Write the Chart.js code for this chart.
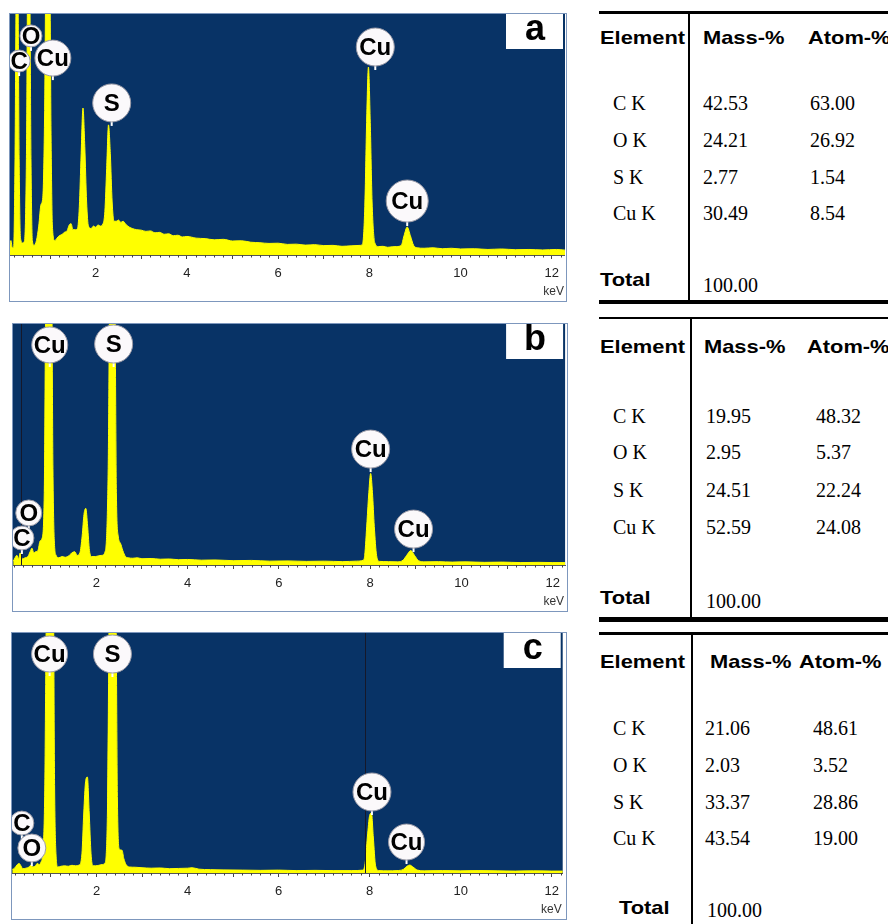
<!DOCTYPE html>
<html>
<head>
<meta charset="utf-8">
<script src="https://cdn.jsdelivr.net/npm/chart.js@4.4.1/dist/chart.umd.min.js"></script>
<style>
  body { margin: 0; width: 888px; height: 924px; background: #fff; position: relative; overflow: hidden; font-family: "Liberation Sans", Arial, sans-serif; }
  .panel { position: absolute; border: 1px solid #7d97bd; box-sizing: content-box; }
  .panel canvas { display: block; }
  .rule { position: absolute; background: #000; }
  .txt { position: absolute; white-space: nowrap; transform: translateY(-50%); color: #000; }
  .hd { font: bold 19px "Liberation Sans", Arial, sans-serif; transform: translateY(-50%) scaleX(1.15); transform-origin: left center; }
  .val { font: 20px "Liberation Serif", "Times New Roman", serif; }
</style>
</head>
<body>
<div id="pa" class="panel" style="left:9px;top:13px"><canvas id="ca" width="556" height="287"></canvas></div>
<div id="pb" class="panel" style="left:12px;top:323px"><canvas id="cb" width="554" height="287"></canvas></div>
<div id="pc" class="panel" style="left:11px;top:632px"><canvas id="cc" width="554" height="286"></canvas></div>
<script>
// --- SPECTRUM DATA (keV, counts in % of plot height; >100 = off scale) ---
const energyA = [0.12,0.14,0.17,0.20,0.23,0.26,0.29,0.32,0.35,0.40,0.44,0.48,0.51,0.55,0.58,0.61,0.65,0.70,0.75,0.80,0.84,0.88,0.91,0.99,1.02,1.05,1.10,1.15,1.20,1.26,1.32,1.37,1.42,1.46,1.50,1.55,1.60,1.64,1.68,1.72,1.76,1.80,1.84,1.90,1.95,2.00,2.05,2.10,2.16,2.20,2.24,2.28,2.32,2.36,2.40,2.45,2.50,2.55,2.60,2.65,2.70,2.80,2.90,3.00,3.10,3.20,3.30,3.40,3.50,3.60,3.70,3.80,3.90,4.00,4.20,4.40,4.60,4.80,5.00,5.20,5.40,5.60,5.80,6.00,6.20,6.40,6.60,6.80,7.00,7.20,7.40,7.60,7.80,7.85,7.90,7.94,7.98,8.02,8.06,8.12,8.20,8.30,8.40,8.50,8.60,8.70,8.76,8.83,8.90,8.97,9.05,9.20,9.40,9.60,9.80,10.0,10.3,10.6,10.9,11.2,11.5,11.8,12.1,12.3];
const countsA = [4,6,3,3,40,115,115,40,7,5,6,40,115,115,40,6,4,6,12,21,24,60,120,120,50,12,6,7,8,8.5,9.5,10,12.5,13,10.5,10.5,11,20,42,61,45,22,12,11,12,11.5,12.5,12,13,18,36,54,42,22,14,14,14.5,13.5,14,13,12,11,10.5,10.3,9.8,10,9.2,9.4,8.6,8.8,8.0,8.2,7.5,7.7,7.0,6.8,6.3,6.5,5.8,5.9,5.3,5.1,4.8,4.9,4.4,4.5,4.1,4.3,3.9,4.0,3.6,3.8,4.0,4.5,20,55,78,55,22,5,3.5,3.6,3.2,3.4,3.5,4,8,11.6,8,4,3,2.8,3,2.6,2.8,2.5,2.6,2.3,2.5,2.2,2.3,2.1,2.3,2.0];

const energyB = [0.18,0.22,0.26,0.30,0.33,0.38,0.44,0.50,0.55,0.59,0.63,0.67,0.72,0.77,0.81,0.86,0.90,1.02,1.05,1.08,1.12,1.18,1.25,1.32,1.40,1.46,1.53,1.58,1.64,1.69,1.73,1.77,1.81,1.85,1.90,1.98,2.05,2.12,2.20,2.26,2.30,2.40,2.44,2.48,2.53,2.58,2.64,2.70,2.80,2.90,3.00,3.20,3.40,3.60,3.80,4.00,4.30,4.60,5.00,5.40,5.80,6.20,6.60,7.00,7.40,7.70,7.85,7.88,7.93,7.97,8.01,8.05,8.09,8.14,8.20,8.40,8.60,8.72,8.80,8.89,8.97,9.06,9.20,9.50,9.80,10.1,10.5,10.9,11.3,11.7,12.0,12.3];
const countsB = [1.5,3,4,2.5,5,2.5,3,3.5,5.5,7,5,5.5,6,10,11,30,120,120,40,10,4,3,3.5,3.2,3.8,5,5.5,4,5,12,21,23.5,16,6,3.5,3.5,3.8,4,6,40,120,120,30,12,9,6,3.5,3.0,2.8,3.0,2.6,2.7,2.4,2.5,2.2,2.3,2.0,2.1,1.8,1.9,1.6,1.7,1.5,1.6,1.4,1.6,2,4,18,30,38,30,16,4,1.5,1.4,1.3,2,4,6,4,1.8,1.3,1.4,1.2,1.3,1.1,1.2,1.0,1.1,1.0,1.0];

const energyC = [0.15,0.20,0.26,0.30,0.34,0.38,0.45,0.52,0.56,0.60,0.66,0.70,0.74,0.78,0.82,0.86,0.91,1.05,1.08,1.11,1.15,1.22,1.30,1.38,1.46,1.54,1.62,1.68,1.72,1.76,1.80,1.84,1.88,1.92,1.98,2.05,2.12,2.18,2.24,2.29,2.42,2.46,2.50,2.56,2.60,2.65,2.72,2.85,3.00,3.20,3.40,3.60,3.80,4.00,4.10,4.25,4.50,4.80,5.20,5.60,6.00,6.40,6.80,7.20,7.60,7.85,7.90,7.95,8.00,8.04,8.08,8.13,8.20,8.40,8.60,8.74,8.82,8.88,8.95,9.05,9.20,9.60,10.0,10.4,10.8,11.2,11.6,12.0,12.3];
const countsC = [1.5,2,3.5,4,3,1.8,2,2.5,3.3,2.5,3,4,3.5,4.5,8.3,30,120,120,35,8,2.5,2.8,3,2.8,3.2,3,3.3,8,25,38,40,25,8,3,3,3.2,3.5,4,25,120,120,30,10,9.5,6,3.5,2.5,2.4,2.2,2.0,2.1,1.8,1.9,2.0,2.2,1.6,1.4,1.3,1.2,1.1,1.2,1.0,1.1,1.0,1.0,1.2,4,15,24,25,15,3,1.0,0.9,1.0,1.5,2.8,3.3,2.5,1.2,0.9,1.0,0.9,1.0,0.9,0.8,0.9,0.8,0.8];

// peak label texts and where their circles sit (keV, % height)
const peakTextA = ['C','O','Cu','S','Cu','Cu'];
const peakKeVA  = [0.32,0.58,1.06,2.35,8.13,8.83];
const peakYA    = [80.5,90.9,81.7,63.1,86.3,22.4];
const peakTextB = ['Cu','S','O','C','Cu','Cu'];
const peakKeVB  = [0.98,2.38,0.52,0.37,8.01,8.95];
const peakYB    = [91.3,91.7,21.6,11.2,48.1,14.9];
const peakTextC = ['Cu','S','C','O','Cu','Cu'];
const peakKeVC  = [0.97,2.35,0.36,0.58,8.05,8.81];
const peakYC    = [91.25,91.25,20.8,10.4,33.75,12.9];

const axisTicks = [1,2,3,4,5,6,7,8,9,10,11,12];

// --- TABLE DATA ---
const tableHeads = ['Element','Mass-%','Atom-%'];
const tableRows = ['C K','O K','S K','Cu K'];
const massA = ['42.53','24.21','2.77','30.49'], atomA = ['63.00','26.92','1.54','8.54'];
const massB = ['19.95','2.95','24.51','52.59'], atomB = ['48.32','5.37','22.24','24.08'];
const massC = ['21.06','2.03','33.37','43.54'], atomC = ['48.61','3.52','28.86','19.00'];
const totalLabel = 'Total', totalValue = '100.00';

// --- LAYOUT / STYLE ---
const BLUE = '#083366', YELLOW = '#ffff00';
const radiiA = [11,11,18,19,19,21], radiiB = [18,19,13,12,19,19], radiiC = [18,19,12,14,19,18];

const edsDecor = {
  id: 'edsDecor',
  beforeDraw(chart, args, o) {
    const {ctx, chartArea: a} = chart;
    ctx.save();
    ctx.fillStyle = BLUE;
    ctx.fillRect(a.left, a.top, a.right - a.left, a.bottom - a.top);
    ctx.restore();
  },
  afterDraw(chart, args, o) {
    const {ctx, chartArea: a} = chart;
    const x = chart.scales.x, y = chart.scales.y;
    ctx.save();
    // minor ticks every 0.2 keV
    ctx.strokeStyle = '#444'; ctx.lineWidth = 1;
    for (let i = 1; i <= 62; i++) {
      const v = i * 0.2;
      if (v < x.min || v > x.max || Math.abs(v - Math.round(v)) < 1e-6) continue;
      const px = Math.round(x.getPixelForValue(v)) + 0.5;
      ctx.beginPath(); ctx.moveTo(px, a.bottom); ctx.lineTo(px, a.bottom + 2.5); ctx.stroke();
    }
    // cursor line
    if (o.cursor != null) {
      const px = Math.round(x.getPixelForValue(o.cursor)) + 0.5;
      ctx.strokeStyle = '#15182a';
      ctx.beginPath(); ctx.moveTo(px, a.top); ctx.lineTo(px, a.bottom); ctx.stroke();
    }
    // element labels
    ctx.font = 'bold 24px "Liberation Sans", Arial, sans-serif';
    ctx.textAlign = 'center'; ctx.textBaseline = 'middle';
    o.text.forEach((t, i) => {
      const cx = x.getPixelForValue(o.kev[i]), cy = y.getPixelForValue(o.y[i]), r = o.r[i];
      ctx.strokeStyle = '#fff'; ctx.lineWidth = 2;
      ctx.beginPath(); ctx.moveTo(cx, cy + r - 1); ctx.lineTo(cx, cy + r + 4); ctx.stroke();
      ctx.beginPath(); ctx.arc(cx, cy, r, 0, Math.PI * 2);
      ctx.fillStyle = '#fbf9fb'; ctx.fill();
      ctx.strokeStyle = '#9a9aa6'; ctx.lineWidth = 1; ctx.stroke();
      ctx.fillStyle = '#000';
      ctx.fillText(t, cx, cy + 1);
    });
    // panel letter box
    ctx.fillStyle = '#fff';
    ctx.fillRect(a.right - 59, a.top, 57, 35);
    ctx.fillStyle = '#000';
    ctx.font = 'bold 36px "Liberation Sans", Arial, sans-serif';
    ctx.fillText(o.letter, a.right - 30, a.top + 16);
    // unit
    ctx.font = '12px "Liberation Sans", Arial, sans-serif';
    ctx.fillStyle = '#333'; ctx.textAlign = 'right';
    ctx.fillText('keV', a.right - 1, chart.height - 9);
    ctx.restore();
  }
};

function makeSpectrum(id, energy, counts, xmin, xmax, decor) {
  const pts = energy.map((e, i) => ({x: e, y: counts[i]}));
  return new Chart(document.getElementById(id), {
    type: 'line',
    data: { datasets: [{ data: pts, borderColor: YELLOW, backgroundColor: YELLOW, borderWidth: 1, fill: 'origin', pointRadius: 0, cubicInterpolationMode: 'monotone' }] },
    options: {
      responsive: false, animation: false, devicePixelRatio: 1,
      layout: { padding: 0 },
      plugins: { legend: { display: false }, tooltip: { enabled: false }, edsDecor: decor },
      scales: {
        x: {
          type: 'linear', min: xmin, max: xmax,
          afterBuildTicks: ax => { ax.ticks = axisTicks.map(v => ({value: v})); },
          afterFit: ax => { ax.height = 46; },
          grid: { drawOnChartArea: false, drawTicks: true, tickLength: 4, color: '#444' },
          border: { display: true, color: '#555', width: 1 },
          ticks: { callback: v => (v % 2 === 0 ? String(v) : ''), autoSkip: false, maxRotation: 0, padding: 7, color: '#222', font: { size: 13, family: '"Liberation Sans", Arial, sans-serif' } }
        },
        y: { display: false, min: 0, max: 100 }
      }
    },
    plugins: [edsDecor]
  });
}

makeSpectrum('ca', energyA, countsA, 0.12, 12.29, { text: peakTextA, kev: peakKeVA, y: peakYA, r: radiiA, letter: 'a', cursor: null });
makeSpectrum('cb', energyB, countsB, 0.175, 12.27, { text: peakTextB, kev: peakKeVB, y: peakYB, r: radiiB, letter: 'b', cursor: 0.35 });
makeSpectrum('cc', energyC, countsC, 0.144, 12.24, { text: peakTextC, kev: peakKeVC, y: peakYC, r: radiiC, letter: 'c', cursor: 7.89 });

// --- TABLES ---
const tableLayouts = [
  { top: 11, topW: 3, bottom: 300, bottomW: 4, vTop: 11, vBot: 303, vx: 688, head: 38, hx: [600,703,808], rows: [103,140,177,213], rx: [613,703,810], total: 280, tx: 600, tv: 285, tvx: 703 },
  { top: 317, topW: 2, bottom: 617, bottomW: 5, vTop: 317, vBot: 620, vx: 690, head: 347, hx: [600,704,807], rows: [416,452,490,527], rx: [613,706,816], total: 598, tx: 600, tv: 601, tvx: 706 },
  { top: 632, topW: 3, bottom: null, vTop: 632, vBot: 924, vx: 691, head: 662, hx: [600,710,799], rows: [728,765,802,838], rx: [613,705,813], total: 908, tx: 619, tv: 910, tvx: 707 }
];
const tableValues = [[massA, atomA], [massB, atomB], [massC, atomC]];

function addEl(cls, style, text) {
  const d = document.createElement('div');
  d.className = cls;
  Object.assign(d.style, style);
  if (text != null) d.textContent = text;
  document.body.appendChild(d);
}

tableLayouts.forEach((L, k) => {
  addEl('rule', { left: '599px', top: L.top + 'px', width: '289px', height: L.topW + 'px' });
  if (L.bottom != null) addEl('rule', { left: '599px', top: L.bottom + 'px', width: '289px', height: L.bottomW + 'px' });
  addEl('rule', { left: L.vx + 'px', top: L.vTop + 'px', width: '2px', height: (L.vBot - L.vTop) + 'px' });
  tableHeads.forEach((h, i) => addEl('txt hd', { left: L.hx[i] + 'px', top: L.head + 'px' }, h));
  tableRows.forEach((r, i) => {
    addEl('txt val', { left: L.rx[0] + 'px', top: L.rows[i] + 'px' }, r);
    addEl('txt val', { left: L.rx[1] + 'px', top: L.rows[i] + 'px' }, tableValues[k][0][i]);
    addEl('txt val', { left: L.rx[2] + 'px', top: L.rows[i] + 'px' }, tableValues[k][1][i]);
  });
  addEl('txt hd', { left: L.tx + 'px', top: L.total + 'px' }, totalLabel);
  addEl('txt val', { left: L.tvx + 'px', top: L.tv + 'px' }, totalValue);
});
</script>
</body>
</html>
